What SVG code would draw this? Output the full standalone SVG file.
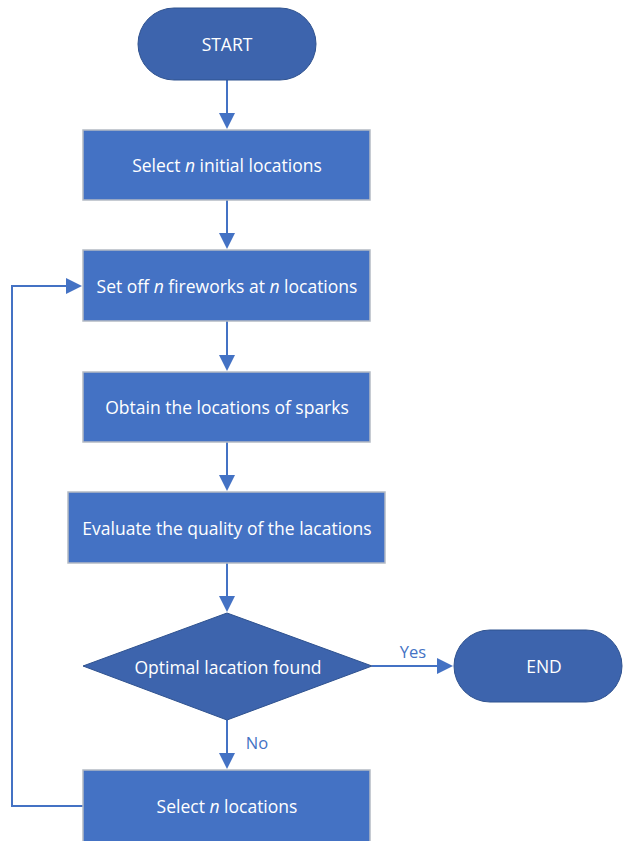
<svg xmlns="http://www.w3.org/2000/svg" width="624" height="841" viewBox="0 0 624 841">
<defs>
<style>
.term{fill:#3D64AD;stroke:#2F528F;stroke-width:1}
.box{fill:#4472C4;stroke:#B4BAC4;stroke-width:1.5}
.t{font-family:"Open Sans","Liberation Sans",sans-serif;font-size:17.5px;fill:#FFFFFF;text-anchor:middle;dominant-baseline:central}
.lbl{font-family:"Open Sans","Liberation Sans",sans-serif;font-size:16.5px;fill:#4472C4;text-anchor:middle;dominant-baseline:central}
.c{fill:none;stroke:#4472C4;stroke-width:2}
</style>
</defs>
<rect width="624" height="841" fill="#FFFFFF"/>
<g id="connectors">
<path class="c" d="M227,80 V114"/>
<path class="c" d="M227,200 V234"/>
<path class="c" d="M227,321 V356"/>
<path class="c" d="M227,442 V476"/>
<path class="c" d="M227,563 V597"/>
<path class="c" d="M372,666 H438"/>
<path class="c" d="M227,720 V754"/>
<path class="c" d="M83,806 H12 V286 H67"/>
<g fill="#4472C4">
<path d="M219,113 L235,113 L227,129 Z"/>
<path d="M219,233 L235,233 L227,249 Z"/>
<path d="M219,355 L235,355 L227,371 Z"/>
<path d="M219,475 L235,475 L227,491 Z"/>
<path d="M219,596 L235,596 L227,612 Z"/>
<path d="M437,658 L437,674 L453,666 Z"/>
<path d="M219,753 L235,753 L227,769 Z"/>
<path d="M66,278 L66,294 L82,286 Z"/>
</g>
<text class="lbl" x="413" y="651">Yes</text>
<text class="lbl" x="257" y="742">No</text>
</g>
<g id="start"><rect class="term" x="138" y="8" width="178" height="72" rx="36"/><text class="t" x="227" y="44">START</text></g>
<g id="select-initial"><rect class="box" x="83" y="130" width="287" height="70"/><text class="t" x="227" y="165">Select <tspan font-style="italic">n</tspan> initial locations</text></g>
<g id="set-off"><rect class="box" x="83" y="250" width="287" height="71"/><text class="t" x="227" y="286">Set off <tspan font-style="italic">n</tspan> fireworks at <tspan font-style="italic">n</tspan> locations</text></g>
<g id="obtain"><rect class="box" x="83" y="372" width="287" height="70"/><text class="t" x="227" y="407">Obtain the locations of sparks</text></g>
<g id="evaluate"><rect class="box" x="68" y="492" width="317" height="71"/><text class="t" x="227" y="528">Evaluate the quality of the lacations</text></g>
<g id="decision"><path class="term" d="M227,613 L372,666 L227,720 L83,666 Z"/><text class="t" x="228" y="667">Optimal lacation found</text></g>
<g id="end"><rect class="term" x="454" y="630" width="168" height="72" rx="36"/><text class="t" x="544" y="666">END</text></g>
<g id="select-n"><rect class="box" x="83" y="770" width="287" height="75"/><text class="t" x="227" y="806">Select <tspan font-style="italic">n</tspan> locations</text></g>
</svg>
